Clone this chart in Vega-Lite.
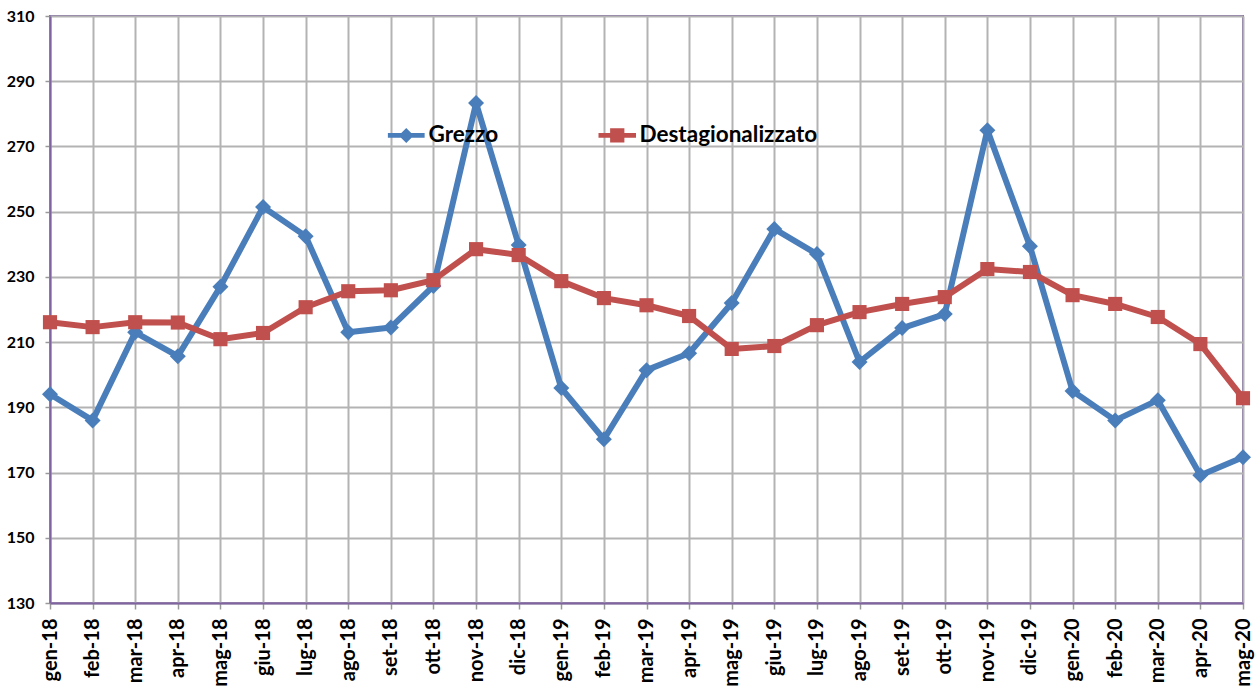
{
  "$schema": "https://vega.github.io/schema/vega-lite/v6.json",
  "width": 1193,
  "height": 587,
  "autosize": {"type": "none"},
  "padding": {"left": 50, "top": 16, "right": 14, "bottom": 88},
  "background": "white",
  "config": {"view": {"stroke": "#8064A2", "strokeWidth": 2}, "font": "Lato"},
  "data": {"values": [
    {"month": "gen-18", "series": "Grezzo", "value": 194},
    {"month": "feb-18", "series": "Grezzo", "value": 186},
    {"month": "mar-18", "series": "Grezzo", "value": 213},
    {"month": "apr-18", "series": "Grezzo", "value": 205.7},
    {"month": "mag-18", "series": "Grezzo", "value": 227},
    {"month": "giu-18", "series": "Grezzo", "value": 251.4},
    {"month": "lug-18", "series": "Grezzo", "value": 242.5},
    {"month": "ago-18", "series": "Grezzo", "value": 213},
    {"month": "set-18", "series": "Grezzo", "value": 214.5},
    {"month": "ott-18", "series": "Grezzo", "value": 227.2},
    {"month": "nov-18", "series": "Grezzo", "value": 283.3},
    {"month": "dic-18", "series": "Grezzo", "value": 239.8},
    {"month": "gen-19", "series": "Grezzo", "value": 195.9},
    {"month": "feb-19", "series": "Grezzo", "value": 180.2},
    {"month": "mar-19", "series": "Grezzo", "value": 201.4},
    {"month": "apr-19", "series": "Grezzo", "value": 206.6},
    {"month": "mag-19", "series": "Grezzo", "value": 222},
    {"month": "giu-19", "series": "Grezzo", "value": 244.7},
    {"month": "lug-19", "series": "Grezzo", "value": 237},
    {"month": "ago-19", "series": "Grezzo", "value": 203.9},
    {"month": "set-19", "series": "Grezzo", "value": 214.3},
    {"month": "ott-19", "series": "Grezzo", "value": 218.6},
    {"month": "nov-19", "series": "Grezzo", "value": 275},
    {"month": "dic-19", "series": "Grezzo", "value": 239.4},
    {"month": "gen-20", "series": "Grezzo", "value": 195},
    {"month": "feb-20", "series": "Grezzo", "value": 186},
    {"month": "mar-20", "series": "Grezzo", "value": 192.2},
    {"month": "apr-20", "series": "Grezzo", "value": 169.2},
    {"month": "mag-20", "series": "Grezzo", "value": 174.7},
    {"month": "gen-18", "series": "Destagionalizzato", "value": 216.1},
    {"month": "feb-18", "series": "Destagionalizzato", "value": 214.6},
    {"month": "mar-18", "series": "Destagionalizzato", "value": 216.1},
    {"month": "apr-18", "series": "Destagionalizzato", "value": 216},
    {"month": "mag-18", "series": "Destagionalizzato", "value": 210.9},
    {"month": "giu-18", "series": "Destagionalizzato", "value": 212.8},
    {"month": "lug-18", "series": "Destagionalizzato", "value": 220.7},
    {"month": "ago-18", "series": "Destagionalizzato", "value": 225.6},
    {"month": "set-18", "series": "Destagionalizzato", "value": 225.9},
    {"month": "ott-18", "series": "Destagionalizzato", "value": 229},
    {"month": "nov-18", "series": "Destagionalizzato", "value": 238.5},
    {"month": "dic-18", "series": "Destagionalizzato", "value": 236.7},
    {"month": "gen-19", "series": "Destagionalizzato", "value": 228.7},
    {"month": "feb-19", "series": "Destagionalizzato", "value": 223.5},
    {"month": "mar-19", "series": "Destagionalizzato", "value": 221.3},
    {"month": "apr-19", "series": "Destagionalizzato", "value": 218},
    {"month": "mag-19", "series": "Destagionalizzato", "value": 207.9},
    {"month": "giu-19", "series": "Destagionalizzato", "value": 208.8},
    {"month": "lug-19", "series": "Destagionalizzato", "value": 215.2},
    {"month": "ago-19", "series": "Destagionalizzato", "value": 219.2},
    {"month": "set-19", "series": "Destagionalizzato", "value": 221.7},
    {"month": "ott-19", "series": "Destagionalizzato", "value": 223.8},
    {"month": "nov-19", "series": "Destagionalizzato", "value": 232.4},
    {"month": "dic-19", "series": "Destagionalizzato", "value": 231.5},
    {"month": "gen-20", "series": "Destagionalizzato", "value": 224.4},
    {"month": "feb-20", "series": "Destagionalizzato", "value": 221.7},
    {"month": "mar-20", "series": "Destagionalizzato", "value": 217.7},
    {"month": "apr-20", "series": "Destagionalizzato", "value": 209.4},
    {"month": "mag-20", "series": "Destagionalizzato", "value": 192.8}
  ]},
  "encoding": {
    "x": {
      "field": "month", "type": "ordinal", "sort": null,
      "scale": {"type": "point", "padding": 0},
      "axis": {
        "title": null, "grid": true, "gridColor": "#b3b3b3", "gridWidth": 2,
        "labelAngle": -90, "labelFont": "Lato", "labelFontWeight": "bold", "labelFontSize": 20,
        "labelColor": "black", "labelPadding": 9, "labelOverlap": false, "labelBound": false,
        "tickSize": 6, "tickColor": "#999999", "tickWidth": 1.5,
        "domainColor": "#8064A2", "domainWidth": 2
      }
    },
    "y": {
      "field": "value", "type": "quantitative",
      "scale": {"domain": [130, 310], "nice": false, "zero": false},
      "axis": {
        "title": null, "values": [130, 150, 170, 190, 210, 230, 250, 270, 290, 310],
        "grid": true, "gridColor": "#b3b3b3", "gridWidth": 2,
        "labelFont": "Lato", "labelFontWeight": "bold", "labelFontSize": 16, "labelColor": "black",
        "labelPadding": 11, "tickSize": 5, "tickColor": "#999999", "tickWidth": 1.5,
        "domainColor": "#8064A2", "domainWidth": 2
      }
    },
    "color": {
      "field": "series", "type": "nominal",
      "scale": {"domain": ["Grezzo", "Destagionalizzato"], "range": ["#4A7EBB", "#C0504D"]},
      "legend": {
        "title": null, "orient": "none", "legendX": 345, "legendY": 108, "direction": "horizontal",
        "padding": 0, "labelFont": "Lato", "labelFontWeight": "bold", "labelFontSize": 22.5,
        "labelColor": "black", "labelLimit": 400, "symbolSize": 225, "labelOffset": 11, "columnPadding": 99,
        "encode": {
          "symbols": {
            "update": {
              "shape": {"signal": "datum.value === 'Grezzo' ? 'M-2.45,-0.33 L2.45,-0.33 L2.45,0.33 L-2.45,0.33 Z M0,-1 L1,0 L0,1 L-1,0 Z' : 'M-2.5,-0.33 L2.5,-0.33 L2.5,0.33 L-2.5,0.33 Z M-0.95,-0.95 L0.95,-0.95 L0.95,0.95 L-0.95,0.95 Z'"},
              "fill": {"signal": "scale('color', datum.value)"},
              "stroke": {"value": "transparent"},
              "strokeWidth": {"value": 0},
              "opacity": {"value": 1}
            }
          }
        }
      }
    }
  },
  "layer": [
    {
      "transform": [{"filter": "datum.series === 'Grezzo'"}],
      "mark": {"type": "line", "strokeWidth": 6, "strokeJoin": "round"},
      "encoding": {"order": {"value": null}}
    },
    {
      "transform": [{"filter": "datum.series === 'Grezzo'"}],
      "mark": {"type": "point", "filled": true, "opacity": 1, "shape": "diamond", "size": 256}
    },
    {
      "transform": [{"filter": "datum.series === 'Destagionalizzato'"}],
      "mark": {"type": "line", "strokeWidth": 6, "strokeJoin": "round"},
      "encoding": {"order": {"value": null}}
    },
    {
      "transform": [{"filter": "datum.series === 'Destagionalizzato'"}],
      "mark": {"type": "point", "filled": true, "opacity": 1, "shape": "square", "size": 200}
    }
  ]
}
